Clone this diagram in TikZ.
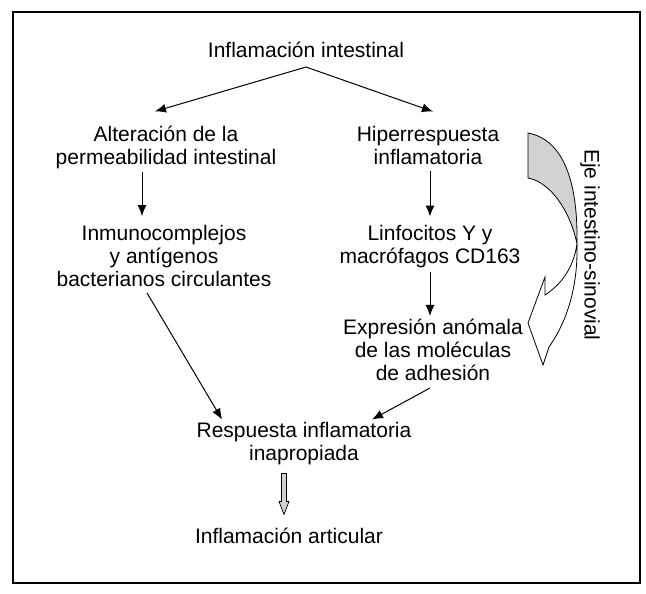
\documentclass[tikz,border=0pt]{standalone}
\usepackage{fontspec}
\setmainfont{Liberation Sans}
\usetikzlibrary{arrows.meta,calc}
\tikzset{
  txt/.style={align=center, inner sep=0pt, font=\fontsize{21}{23}\selectfont},
  arr/.style={-{Latex[length=11pt,width=9pt]}, line width=1pt},
  ribbon/.style={draw, line width=0.8pt, line join=miter},
}
\begin{document}
\begin{tikzpicture}[x=1pt, y=-1pt]
	\useasboundingbox (0,0) rectangle (646,594);
	\draw[line width=1.1pt] (13,12) rectangle (640,583);
	% left and right columns
	\node[txt] (inflam) at (306,50) {Inflamación intestinal};
	\node[txt] (perm) at (166,147) {Alteración de la\\permeabilidad intestinal};
	\node[txt] (hiper) at (428,145) {Hiperrespuesta\\inflamatoria};
	\node[txt] (inmuno) at (164,256) {Inmunocomplejos\\y antígenos\\bacterianos circulantes};
	\node[txt] (linfo) at (430,247) {Linfocitos Y y\\macrófagos CD163};
	\node[txt] (expr) at (433,350) {Expresión anómala\\de las moléculas\\de adhesión};
	\node[txt] (resp) at (304,444) {Respuesta inflamatoria\\inapropiada};
	\node[txt] (artic) at (289,536) {Inflamación articular};
	\node[txt, rotate=-90] (eje) at (590,245) {Eje intestino-sinovial};
	% arrows
	\draw[arr] ($(inflam.south)+(0,9)$) -- ($(perm.north)+(-11,-14)$);
	\draw[arr] ($(inflam.south)+(0,9)$) -- ($(hiper.north)+(5,-14)$);
	\draw[arr] ($(perm.south)+(-24,3)$) -- ($(inmuno.north)+(-22,-9)$);
	\draw[arr] ($(hiper.south)+(2,7)$) -- ($(linfo.north)+(0,-9)$);
	\draw[arr] ($(linfo.south)+(0,4)$) -- ($(expr.north)+(-3,-3)$);
	\draw[arr] ($(inmuno.south)+(-17,6)$) -- ($(resp.north)+(-82,-3)$);
	\draw[arr] ($(expr.south)+(-3,7)$) -- ($(resp.north)+(68,-3)$);
	% hollow arrow down
	\draw[line width=0.7pt, fill=gray!35] ($(resp.south)+(-22.5,8)$) -- ++(5,0) -- ++(0,28)
		-- ++(2.5,0) -- ++(-5,13) -- ++(-5,-13) -- ++(2.5,0) -- cycle;
	% curved ribbon arrow
	\path[ribbon, fill=gray!35] (528,133) -- (528,178) .. controls (550,182) and (570,210) .. (577,244)
		.. controls (578,185) and (565,140) .. (528,133) -- cycle;
	\path[ribbon, fill=white] (577,244) .. controls (573,270) and (560,285) .. (545,295)
		-- (545,277) -- (528,323) -- (543,365) -- (549,347)
		.. controls (568,320) and (578,285) .. (577,244) -- cycle;
\end{tikzpicture}
\end{document}
